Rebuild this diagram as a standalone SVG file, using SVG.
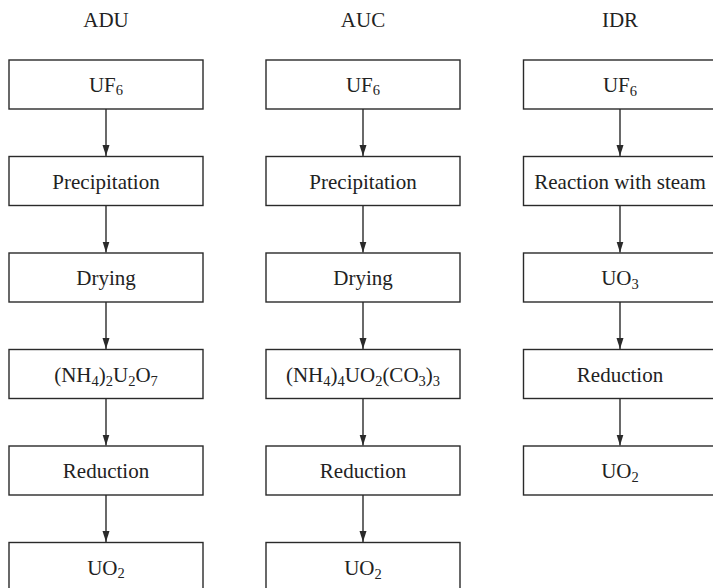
<svg xmlns="http://www.w3.org/2000/svg" width="713" height="588" viewBox="0 0 713 588">
  <style>
    .box { fill: #ffffff; stroke: #2a2a2a; stroke-width: 1.4; }
    .lbl { font-family: "Liberation Serif", "Times New Roman", serif; font-size: 21px; fill: #222222; text-anchor: middle; }
    .sub { font-size: 14.5px; }
    .conn { stroke: #2a2a2a; stroke-width: 1.4; fill: none; marker-end: url(#arrow); }
  </style>
  <defs>
    <marker id="arrow" markerWidth="11" markerHeight="8" refX="11" refY="3.5" orient="auto" markerUnits="userSpaceOnUse">
      <path d="M0,0 L11,3.5 L0,7 Z" fill="#2a2a2a"/>
    </marker>
  </defs>
  <rect width="713" height="588" fill="#ffffff"/>

  <!-- column titles -->
  <g id="titles">
    <text class="lbl" x="106" y="27">ADU</text>
    <text class="lbl" x="363" y="27">AUC</text>
    <text class="lbl" x="620" y="27">IDR</text>
  </g>

  <!-- connectors -->
  <g id="connectors">
    <line class="conn" x1="106" y1="109" x2="106" y2="156"/>
    <line class="conn" x1="106" y1="205.5" x2="106" y2="252.5"/>
    <line class="conn" x1="106" y1="302" x2="106" y2="349"/>
    <line class="conn" x1="106" y1="398.5" x2="106" y2="445.5"/>
    <line class="conn" x1="106" y1="495" x2="106" y2="542"/>

    <line class="conn" x1="363" y1="109" x2="363" y2="156"/>
    <line class="conn" x1="363" y1="205.5" x2="363" y2="252.5"/>
    <line class="conn" x1="363" y1="302" x2="363" y2="349"/>
    <line class="conn" x1="363" y1="398.5" x2="363" y2="445.5"/>
    <line class="conn" x1="363" y1="495" x2="363" y2="542"/>

    <line class="conn" x1="620" y1="109" x2="620" y2="156"/>
    <line class="conn" x1="620" y1="205.5" x2="620" y2="252.5"/>
    <line class="conn" x1="620" y1="302" x2="620" y2="349"/>
    <line class="conn" x1="620" y1="398.5" x2="620" y2="445.5"/>
  </g>

  <!-- ADU route -->
  <g id="adu-uf6">
    <rect class="box" x="9" y="60" width="194" height="49"/>
    <text class="lbl" x="106" y="91.5">UF<tspan class="sub" dy="3">6</tspan></text>
  </g>
  <g id="adu-precipitation">
    <rect class="box" x="9" y="156.5" width="194" height="49"/>
    <text class="lbl" x="106" y="188.5">Precipitation</text>
  </g>
  <g id="adu-drying">
    <rect class="box" x="9" y="253" width="194" height="49"/>
    <text class="lbl" x="106" y="285">Drying</text>
  </g>
  <g id="adu-diuranate">
    <rect class="box" x="9" y="349.5" width="194" height="49"/>
    <text class="lbl" x="106" y="382">(NH<tspan class="sub" dy="4">4</tspan><tspan dy="-4">)</tspan><tspan class="sub" dy="4">2</tspan><tspan dy="-4">U</tspan><tspan class="sub" dy="4">2</tspan><tspan dy="-4">O</tspan><tspan class="sub" dy="4">7</tspan></text>
  </g>
  <g id="adu-reduction">
    <rect class="box" x="9" y="446" width="194" height="49"/>
    <text class="lbl" x="106" y="478">Reduction</text>
  </g>
  <g id="adu-uo2">
    <rect class="box" x="9" y="542.5" width="194" height="49"/>
    <text class="lbl" x="106" y="575">UO<tspan class="sub" dy="3">2</tspan></text>
  </g>

  <!-- AUC route -->
  <g id="auc-uf6">
    <rect class="box" x="266" y="60" width="194" height="49"/>
    <text class="lbl" x="363" y="91.5">UF<tspan class="sub" dy="3">6</tspan></text>
  </g>
  <g id="auc-precipitation">
    <rect class="box" x="266" y="156.5" width="194" height="49"/>
    <text class="lbl" x="363" y="188.5">Precipitation</text>
  </g>
  <g id="auc-drying">
    <rect class="box" x="266" y="253" width="194" height="49"/>
    <text class="lbl" x="363" y="285">Drying</text>
  </g>
  <g id="auc-carbonate">
    <rect class="box" x="266" y="349.5" width="194" height="49"/>
    <text class="lbl" x="363" y="382">(NH<tspan class="sub" dy="4">4</tspan><tspan dy="-4">)</tspan><tspan class="sub" dy="4">4</tspan><tspan dy="-4">UO</tspan><tspan class="sub" dy="4">2</tspan><tspan dy="-4">(CO</tspan><tspan class="sub" dy="4">3</tspan><tspan dy="-4">)</tspan><tspan class="sub" dy="4">3</tspan></text>
  </g>
  <g id="auc-reduction">
    <rect class="box" x="266" y="446" width="194" height="49"/>
    <text class="lbl" x="363" y="478">Reduction</text>
  </g>
  <g id="auc-uo2">
    <rect class="box" x="266" y="542.5" width="194" height="49"/>
    <text class="lbl" x="363" y="575">UO<tspan class="sub" dy="4">2</tspan></text>
  </g>

  <!-- IDR route -->
  <g id="idr-uf6">
    <rect class="box" x="523.5" y="60" width="194" height="49"/>
    <text class="lbl" x="620" y="91.5">UF<tspan class="sub" dy="4">6</tspan></text>
  </g>
  <g id="idr-steam">
    <rect class="box" x="523.5" y="156.5" width="194" height="49"/>
    <text class="lbl" x="620" y="188.5">Reaction with steam</text>
  </g>
  <g id="idr-uo3">
    <rect class="box" x="523.5" y="253" width="194" height="49"/>
    <text class="lbl" x="620" y="285">UO<tspan class="sub" dy="4">3</tspan></text>
  </g>
  <g id="idr-reduction">
    <rect class="box" x="523.5" y="349.5" width="194" height="49"/>
    <text class="lbl" x="620" y="381.5">Reduction</text>
  </g>
  <g id="idr-uo2">
    <rect class="box" x="523.5" y="446" width="194" height="49"/>
    <text class="lbl" x="620" y="478">UO<tspan class="sub" dy="4">2</tspan></text>
  </g>
</svg>
